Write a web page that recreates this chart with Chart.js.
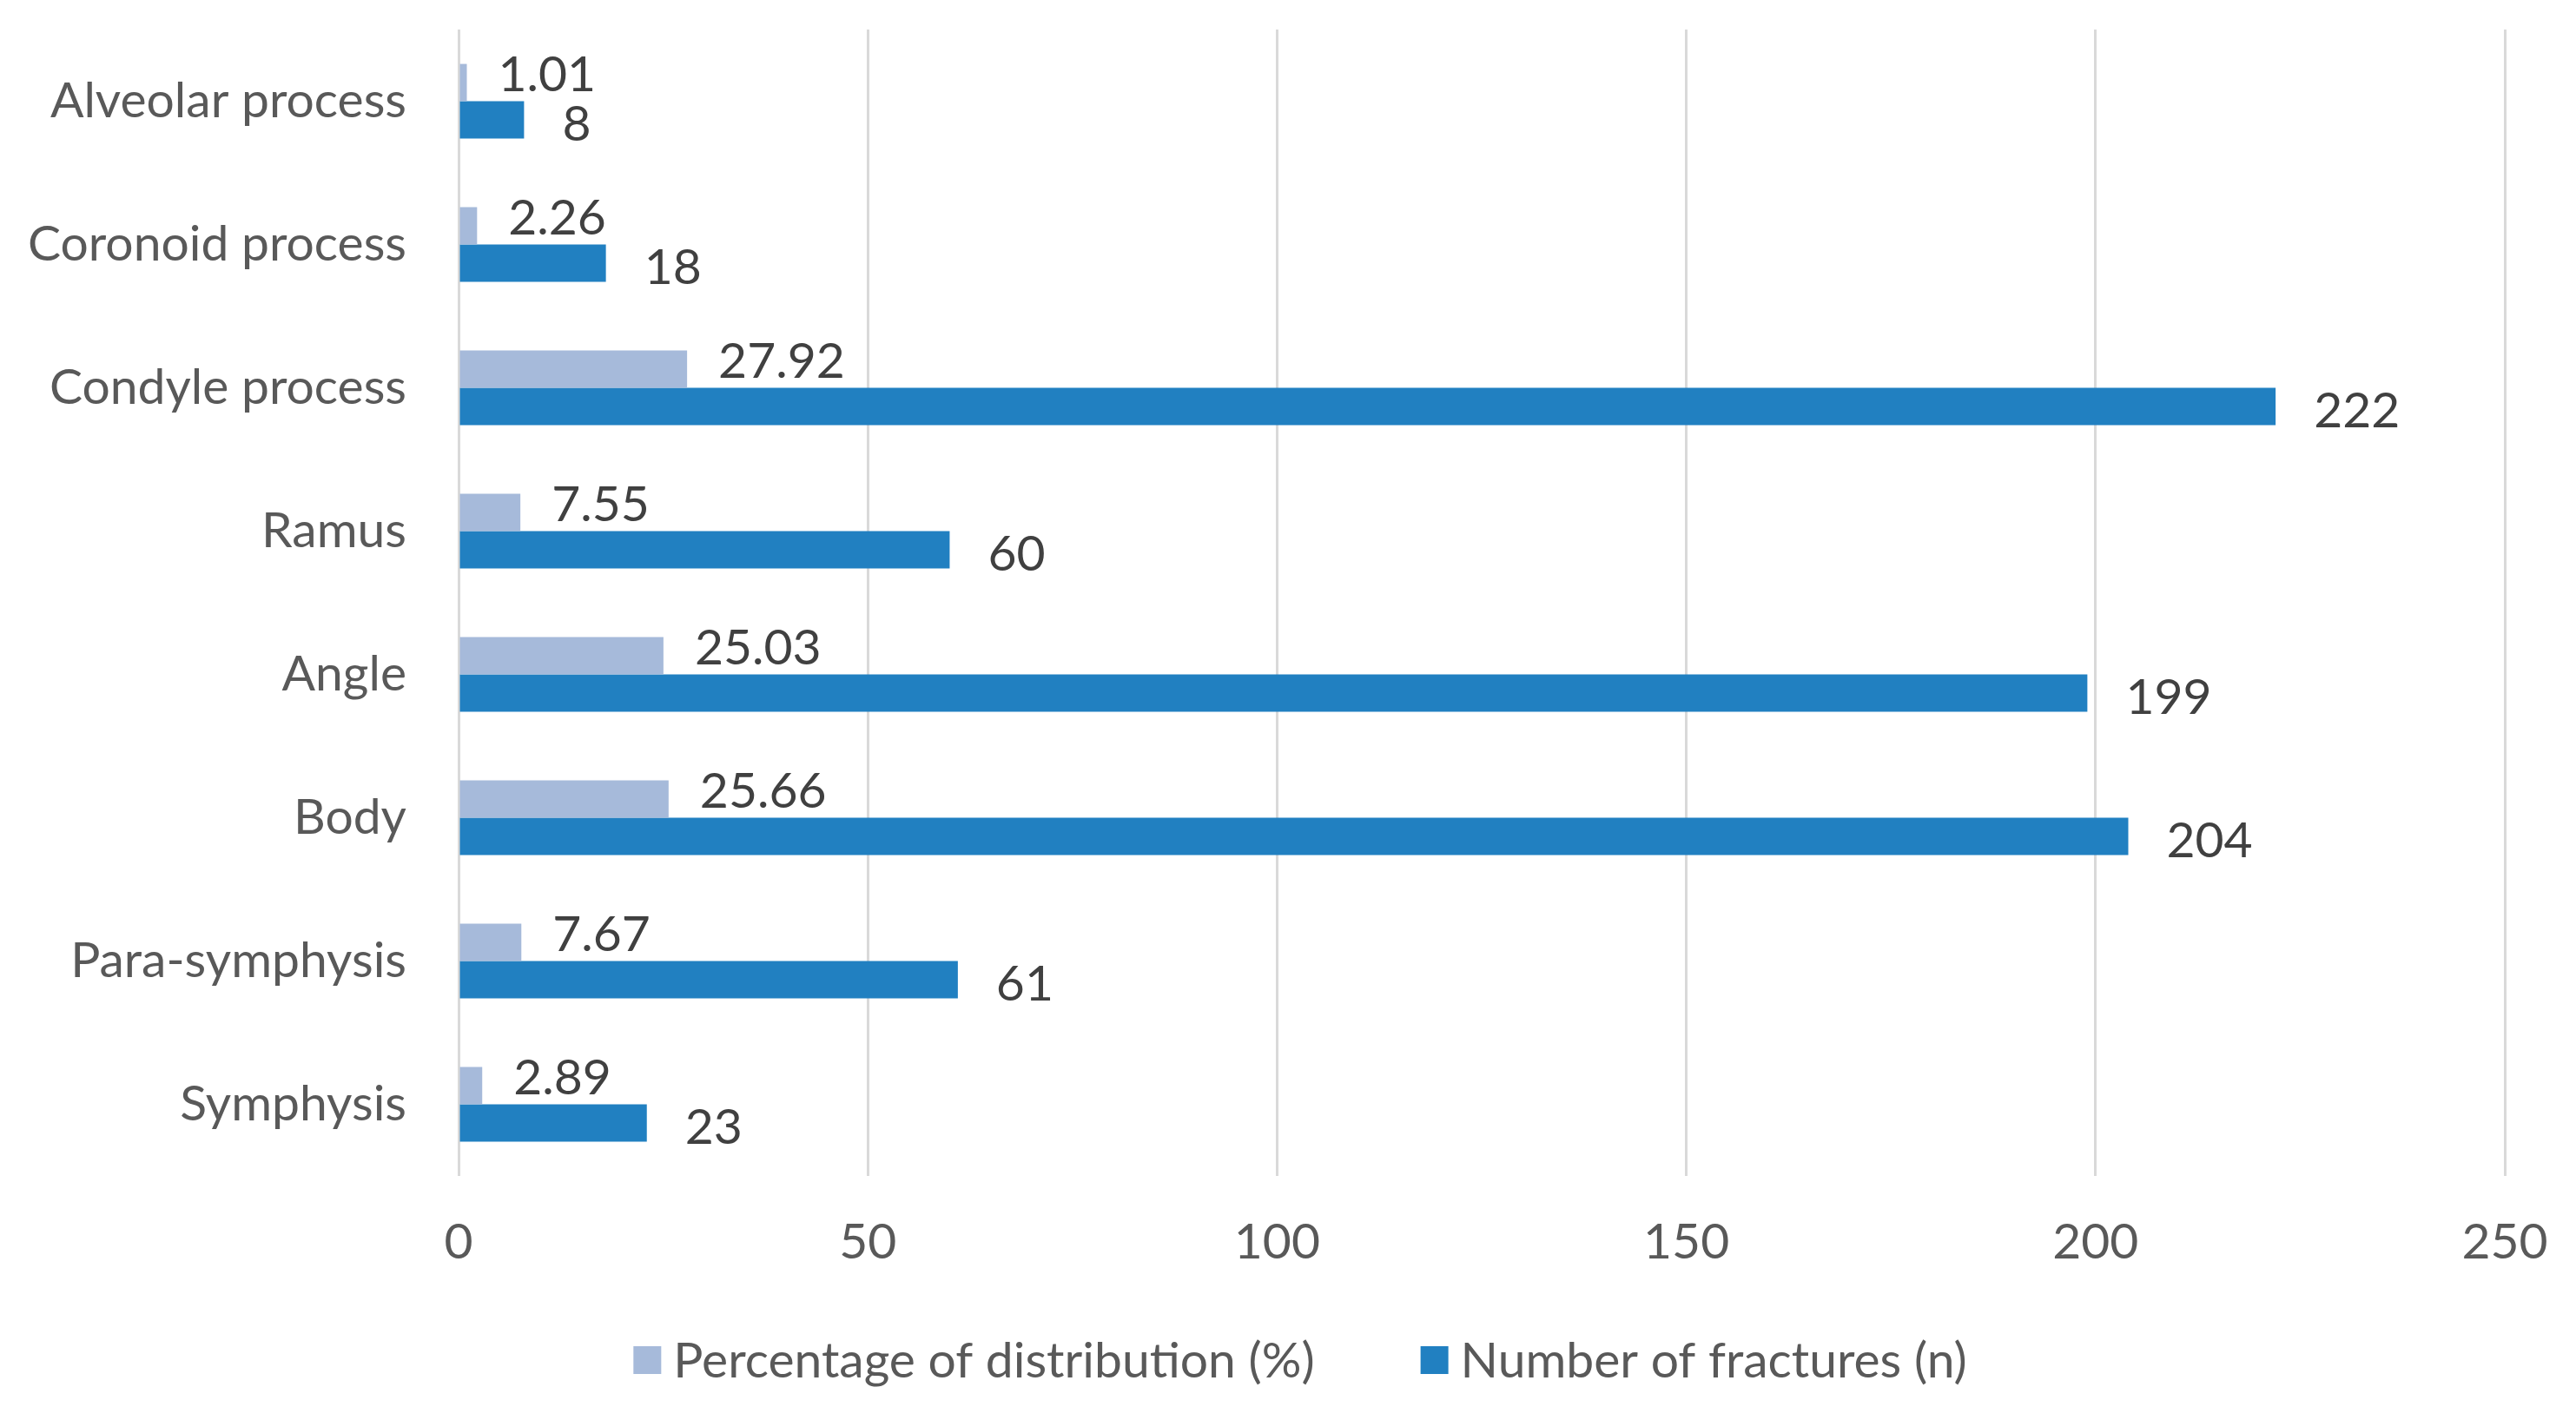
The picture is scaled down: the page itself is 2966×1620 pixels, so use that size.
<!DOCTYPE html>
<html>
<head>
<meta charset="utf-8">
<script src="https://cdn.jsdelivr.net/npm/chart.js@4.4.1/dist/chart.umd.min.js"></script>
<style>
  html, body { margin: 0; padding: 0; background: #fff; }
  #wrap { width: 2966px; height: 1620px; position: relative; }
</style>
</head>
<body>
<div id="wrap"><canvas id="myChart"></canvas></div>
<script>
// data, top row first
const sites = ['Alveolar process', 'Coronoid process', 'Condyle process', 'Ramus', 'Angle', 'Body', 'Para-symphysis', 'Symphysis'];
const percentDist = [1.01, 2.26, 27.92, 7.55, 25.03, 25.66, 7.67, 2.89];
const fractureCount = [8, 18, 222, 60, 199, 204, 61, 23];
const xTicks = [0, 50, 100, 150, 200, 250];

const fontFam = 'Lato, "Open Sans", sans-serif';
const fontSize = 57;
const textCol = '#595959';

// draws the value next to the end of each bar
const barValues = {
  id: 'barValues',
  afterDatasetsDraw(chart) {
    const ctx = chart.ctx;
    ctx.save();
    ctx.font = fontSize + 'px ' + fontFam;
    ctx.fillStyle = '#404040';
    ctx.textAlign = 'left';
    ctx.textBaseline = 'middle';
    chart.data.datasets.forEach((ds, di) => {
      const meta = chart.getDatasetMeta(di);
      meta.data.forEach((bar, i) => {
        const dy = di == 0 ? -8 : 6;
        const dx = di == 0 ? 36 : 44;
        ctx.fillText(String(ds.data[i]), bar.x + dx, bar.y + dy);
      });
    });
    ctx.restore();
  }
};

// legend like the excel one: small square, short gap, wide spacing
const bottomLegend = {
  id: 'bottomLegend',
  afterDraw(chart) {
    const ctx = chart.ctx;
    const box = 32, gap = 14, spacing = 122;
    const cy = 1566, cx = 1497;
    ctx.save();
    ctx.font = fontSize + 'px ' + fontFam;
    ctx.textBaseline = 'middle';
    ctx.textAlign = 'left';
    const items = chart.data.datasets.map(ds => ({
      text: ds.label, color: ds.backgroundColor, w: ctx.measureText(ds.label).width
    }));
    let total = 0;
    items.forEach((it, i) => { total += box + gap + it.w + (i > 0 ? spacing : 0); });
    let x = cx - total / 2;
    items.forEach(it => {
      ctx.fillStyle = it.color;
      ctx.fillRect(x, cy - box / 2, box, box);
      ctx.fillStyle = textCol;
      ctx.fillText(it.text, x + box + gap, cy + 2);
      x += box + gap + it.w + spacing;
    });
    ctx.restore();
  }
};

const ctx = document.getElementById('myChart').getContext('2d');
const myChart = new Chart(ctx, {
  type: 'bar',
  data: {
    labels: sites,
    datasets: [
      {
        label: 'Percentage of distribution (%)',
        data: percentDist,
        backgroundColor: 'rgb(166, 186, 218)',
        borderWidth: 0
      },
      {
        label: 'Number of fractures (n)',
        data: fractureCount,
        backgroundColor: 'rgb(33, 128, 193)',
        borderWidth: 0
      }
    ]
  },
  options: {
    indexAxis: 'y',
    responsive: true,
    maintainAspectRatio: false,
    devicePixelRatio: 1,
    animation: false,
    categoryPercentage: 0.52,
    barPercentage: 1.0,
    layout: { padding: { top: 34, right: 82, bottom: 0, left: 0 } },
    scales: {
      x: {
        min: 0,
        max: 250,
        afterBuildTicks(scale) {
          scale.ticks = xTicks.map(v => ({ value: v }));
        },
        afterFit(scale) {
          scale.height = 266;
          scale.paddingLeft = 0;
          scale.paddingRight = 0;
        },
        grid: { color: '#d9d9d9', lineWidth: 3, drawTicks: false },
        border: { display: false },
        ticks: { color: textCol, font: { size: fontSize, family: fontFam }, padding: 42 }
      },
      y: {
        afterFit(scale) {
          scale.width = 528;
          scale.paddingTop = 0;
          scale.paddingBottom = 0;
        },
        grid: { display: false },
        border: { display: false },
        ticks: { color: textCol, font: { size: fontSize, family: fontFam }, padding: 52 }
      }
    },
    plugins: {
      legend: { display: false },
      tooltip: { enabled: false }
    }
  },
  plugins: [barValues, bottomLegend]
});
</script>
</body>
</html>
